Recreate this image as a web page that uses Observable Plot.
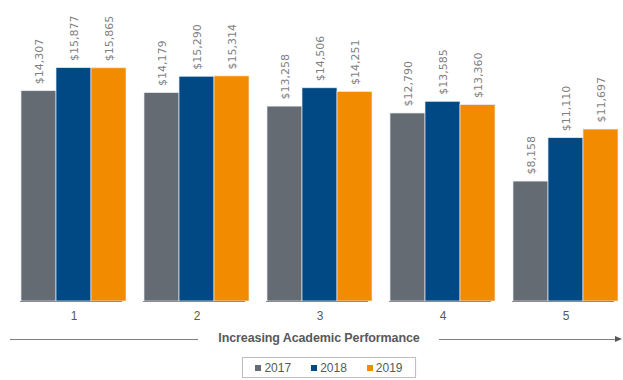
<!DOCTYPE html>
<html>
<head>
<meta charset="utf-8">
<script src="https://cdn.jsdelivr.net/npm/d3@7"></script>
<script src="https://cdn.jsdelivr.net/npm/@observablehq/plot@0.6"></script>
<style>
  body { margin: 0; background: #fff; font-family: "Liberation Sans", Arial, sans-serif; }
  #wrap { width: 623px; }
  #wrap svg { display: block; }
  .axis-title { position: relative; width: 623px; height: 22px; }
  .axis-title .line { position: absolute; top: 13px; height: 1px; background: #7f7f7f; }
  .axis-title .txt { position: absolute; left: 0; width: 638px; top: 5px; text-align: center; font-weight: bold; font-size: 12.5px; line-height: 15px; color: #595959; letter-spacing: -0.1px; }
  .arrow { position: absolute; top: 10px; left: 615px; width: 0; height: 0; border-top: 3.5px solid transparent; border-bottom: 3.5px solid transparent; border-left: 7px solid #595959; }
  .legend-box { margin-left: 242px; margin-top: 9px; width: 172px; height: 19px; border: 1px solid #bfbfbf; box-shadow: 0 1px 1px #ddd; display: flex; align-items: center; justify-content: center; gap: 20px; font-size: 12px; line-height: 14px; color: #595959; }
  .legend-box span.sw { display: inline-block; width: 6px; height: 6px; margin-right: 3px; vertical-align: 1px; }
</style>
</head>
<body>
<div id="wrap"></div>
<script>
const groups = ["1", "2", "3", "4", "5"];
const years = ["2017", "2018", "2019"];
const values2017 = [14307, 14179, 13258, 12790, 8158];
const values2018 = [15877, 15290, 14506, 13585, 11110];
const values2019 = [15865, 15314, 14251, 13360, 11697];
const colors = ["#656b72", "#004985", "#f28b00"];
const axisTitle = "Increasing Academic Performance";

const seriesValues = [values2017, values2018, values2019];
const data = [];
groups.forEach((g, i) => years.forEach((y, j) => data.push({group: g, year: y, value: seriesValues[j][i]})));

const fmt = d3.format("$,.0f");

const baseline = (index, scales, values, dimensions) => {
  const y0 = scales.y(0);
  const line = d3.create("svg:line")
    .attr("x1", dimensions.marginLeft)
    .attr("x2", dimensions.width)
    .attr("y1", y0 + 0.5)
    .attr("y2", y0 + 0.5)
    .attr("stroke", "#8c8c8c");
  return line.node();
};

const chart = Plot.plot({
  width: 623,
  height: 326,
  marginLeft: 10,
  marginRight: -5,
  marginTop: 7,
  marginBottom: 25,
  style: {fontFamily: "Liberation Sans, Arial, sans-serif", background: "#fff"},
  fx: {domain: groups, paddingInner: 0.134, paddingOuter: 0.067, label: null},
  x: {domain: years, padding: 0, axis: null},
  y: {domain: [0, 20000], axis: null},
  color: {domain: years, range: colors},
  marks: [
    Plot.axisFx({anchor: "bottom", tickSize: 0, tickPadding: 10, fontSize: 12, color: "#595959", label: null}),
    Plot.barY(data, {fx: "group", x: "year", y: "value", fill: "year", stroke: "#e8ecf2", strokeWidth: 0.7}),
    Plot.text(data, {fx: "group", x: "year", y: "value", text: d => fmt(d.value), rotate: -90, textAnchor: "start", dy: -7, fill: "#7f7f7f", fontSize: 11, fontFamily: "DejaVu Sans, Verdana, sans-serif"}),
    baseline
  ]
});

const wrap = document.getElementById("wrap");
wrap.appendChild(chart);

const at = document.createElement("div");
at.className = "axis-title";
at.innerHTML = `<div class="line" style="left:10px;width:188px"></div><div class="txt"></div><div class="line" style="left:439px;width:178px"></div><div class="arrow"></div>`;
at.querySelector(".txt").textContent = axisTitle;
wrap.appendChild(at);

const lg = document.createElement("div");
lg.className = "legend-box";
years.forEach((y, i) => {
  const item = document.createElement("div");
  item.innerHTML = `<span class="sw" style="background:${colors[i]}"></span>${y}`;
  lg.appendChild(item);
});
wrap.appendChild(lg);
</script>
</body>
</html>
